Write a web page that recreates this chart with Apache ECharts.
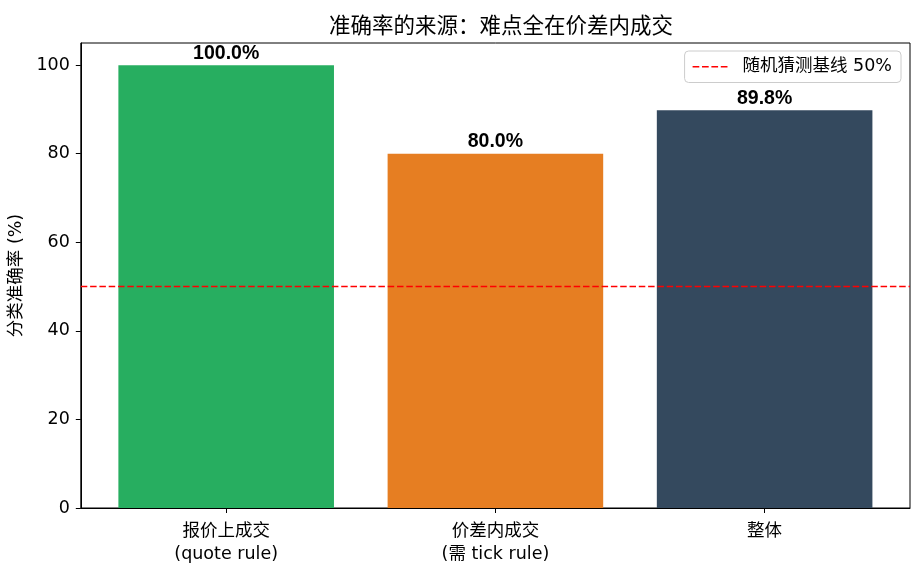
<!DOCTYPE html>
<html><head><meta charset="utf-8">
<script src="https://cdn.jsdelivr.net/npm/echarts@6/dist/echarts.min.js"></script>
<style>html,body{margin:0;padding:0;background:#fff}#c{width:923px;height:585px}</style>
</head><body><div id="c"></div>
<script>
const categories = ['报价上成交\n(quote rule)', '价差内成交\n(需 tick rule)', '整体'];
const accuracy = [100.0, 80.0, 89.8];
const barColors = ['#27ae60', '#e67e22', '#34495e'];
const baselineValue = 50;
const baselineName = '随机猜测基线 50%';
const yTicks = [0, 20, 40, 60, 80, 100];
const titleText = '准确率的来源：难点全在价差内成交';
const yName = '分类准确率 (%)';

const FONT = '"DejaVu Sans", "Noto Sans CJK SC", sans-serif';
const LABEL_FONT = '"Liberation Sans", Arial, sans-serif';
const FS = 17.5;
const xMin = -0.54, xMax = 2.54;
const chart = echarts.init(document.getElementById('c'));
const plotW = 923 - 80 - 13;
const barW = plotW / (xMax - xMin) * 0.8;

chart.setOption({
  animation: false,
  textStyle: { fontFamily: FONT },
  title: { text: titleText, left: 496, top: 12, textAlign: 'center',
    textStyle: { fontFamily: FONT, fontSize: 21.5, fontWeight: 'normal', color: '#000' } },
  grid: { left: 80, right: 13, top: 43, bottom: 77, show: true, borderColor: '#000', borderWidth: 1, backgroundColor: 'transparent' },
  legend: {
    right: 22, top: 51, orient: 'vertical',
    data: [{ name: baselineName, icon: 'path://M0,0h6.7v1.5h-6.7z M9.4,0h6.7v1.5h-6.7z M18.8,0h6.7v1.5h-6.7z M28.2,0h6.7v1.5h-6.7z' }],
    backgroundColor: '#fff', borderColor: '#ccc', borderWidth: 1, borderRadius: 4,
    padding: [7, 9, 7, 8], itemWidth: 35, itemHeight: 1.5,
    textStyle: { fontFamily: FONT, fontSize: FS, color: '#000', padding: [0, 0, 0, 10] }
  },
  xAxis: {
    type: 'value', min: xMin, max: xMax,
    splitLine: { show: false },
    axisLine: { show: true, onZero: false, lineStyle: { color: '#000' } },
    axisTick: { show: true, customValues: [0, 1, 2], length: 5, lineStyle: { color: '#000' } },
    axisLabel: { customValues: [0, 1, 2], formatter: v => categories[Math.round(v)],
      fontFamily: FONT, fontSize: FS, color: '#000', lineHeight: 23, margin: 12 }
  },
  yAxis: {
    type: 'value', min: 0, max: 105,
    name: yName, nameLocation: 'middle', nameGap: 49, nameRotate: 90,
    nameTextStyle: { fontFamily: FONT, fontSize: FS, color: '#000' },
    splitLine: { show: false },
    axisLine: { show: true, onZero: false, lineStyle: { color: '#000' } },
    axisTick: { show: true, customValues: yTicks, length: 5, lineStyle: { color: '#000' } },
    axisLabel: { customValues: yTicks, fontFamily: FONT, fontSize: FS, color: '#000', margin: 11 }
  },
  series: [
    {
      type: 'bar', barWidth: barW,
      data: accuracy.map((v, i) => ({ value: [i, v], itemStyle: { color: barColors[i] } })),
      label: { show: true, position: 'top', distance: 2, formatter: p => p.value[1].toFixed(1) + '%',
        fontFamily: LABEL_FONT, fontSize: 19.5, fontWeight: 'bold', color: '#000' },
      z: 2
    },
    {
      name: baselineName, type: 'line', symbol: 'none', silent: true,
      data: [[xMin, baselineValue], [xMax, baselineValue]],
      lineStyle: { color: '#ff0000', width: 1.5, type: [6.5, 2.8] },
      itemStyle: { color: '#ff0000' },
      z: 3
    }
  ]
});
</script></body></html>
